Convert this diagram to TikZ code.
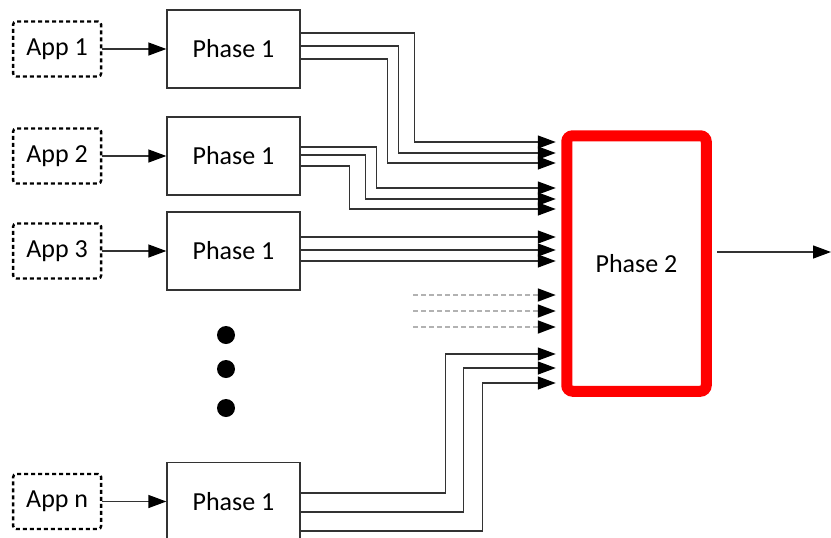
\documentclass[tikz,border=0pt]{standalone}
\usepackage{fontspec}
\setmainfont{Carlito}
\usepackage{tikz}
\usetikzlibrary{arrows.meta, positioning, calc, shadows}

\begin{document}
\begin{tikzpicture}[
  x=0.5pt, y=-0.5pt,
  font=\fontsize{13}{15}\selectfont,
  app/.style={draw, line width=1.2pt, rounded corners=1.5pt,
              dash pattern=on 2pt off 1.5pt, minimum width=44pt, minimum height=27.5pt},
  ph1/.style={draw=black!80, line width=0.65pt, minimum width=66.5pt, minimum height=39pt},
  ph2/.style={draw=red, line width=5.5pt, rounded corners=3pt, fill=white,
              minimum width=69.75pt, minimum height=127.75pt,
              drop shadow={shadow xshift=1pt, shadow yshift=-1.5pt, opacity=0.25}},
  dot/.style={circle, fill=black, inner sep=0pt, minimum size=9pt},
  ar/.style={-{Triangle[length=9pt, width=6.5pt, color=black]}, draw=black!80, line width=0.65pt},
  far/.style={ar, shorten >=2.75pt},
  dar/.style={far, draw=black!30, line width=0.9pt, dash pattern=on 2.5pt off 1.5pt}
]
\useasboundingbox (0,0) rectangle (831,537);
\node[ph1] (p1) at (233.5,49) {Phase 1};
\node[ph1] (p2) at (233.5,156) {Phase 1};
\node[ph1] (p3) at (233.5,251) {Phase 1};
\node[ph1] (pn) at (233.5,501.5) {Phase 1};
\node[app, left=32pt of p1] (app1) {App 1};
\node[app, left=32pt of p2] (app2) {App 2};
\node[app, left=32pt of p3] (app3) {App 3};
\node[app, left=32pt of pn] (appn) {App n};
\node[dot] (dt1) at (226,335) {};
\node[dot] (dt2) at (226,369) {};
\node[dot] (dt3) at (226,408) {};
\node[ph2] (ph2) at (636.5,263.5) {Phase 2};
\coordinate (dd1) at (413,295);
\coordinate (dd2) at (413,311);
\coordinate (dd3) at (413,327);
\coordinate (out) at (831,252);
\draw[ar] (app1) -- (p1);
\draw[ar] (app2) -- (p2);
\draw[ar] (app3) -- (p3);
\draw[ar] (appn) -- (pn);
\draw[far] ($(p1.east)+(0,-16)$) -- ++(114,0) |- ($(ph2.west)+(0,-121.5)$);
\draw[far] ($(p1.east)+(0,-3)$) -- ++(98,0) |- ($(ph2.west)+(0,-110.5)$);
\draw[far] ($(p1.east)+(0,10)$) -- ++(87,0) |- ($(ph2.west)+(0,-100.5)$);
\draw[far] ($(p2.east)+(0,-9)$) -- ++(76,0) |- ($(ph2.west)+(0,-75.5)$);
\draw[far] ($(p2.east)+(0,-1)$) -- ++(65,0) |- ($(ph2.west)+(0,-64.5)$);
\draw[far] ($(p2.east)+(0,10)$) -- ++(49,0) |- ($(ph2.west)+(0,-54.5)$);
\draw[far] ($(p3.east)+(0,-14)$) -- ($(ph2.west)+(0,-26.5)$);
\draw[far] ($(p3.east)+(0,-1)$) -- ($(ph2.west)+(0,-13.5)$);
\draw[far] ($(p3.east)+(0,10)$) -- ($(ph2.west)+(0,-2.5)$);
\draw[dar] (dd1) -- ($(ph2.west)+(0,31.5)$);
\draw[dar] (dd2) -- ($(ph2.west)+(0,47.5)$);
\draw[dar] (dd3) -- ($(ph2.west)+(0,63.5)$);
\draw[far] ($(pn.east)+(0,-8.5)$) -- ++(145,0) |- ($(ph2.west)+(0,90.5)$);
\draw[far] ($(pn.east)+(0,10.5)$) -- ++(163,0) |- ($(ph2.west)+(0,104.5)$);
\draw[far] ($(pn.east)+(0,29.5)$) -- ++(182,0) |- ($(ph2.west)+(0,119.5)$);
\draw[ar, shorten <=2.75pt] ($(ph2.east)+(0,-11.5)$) -- (out);
\end{tikzpicture}
\end{document}
